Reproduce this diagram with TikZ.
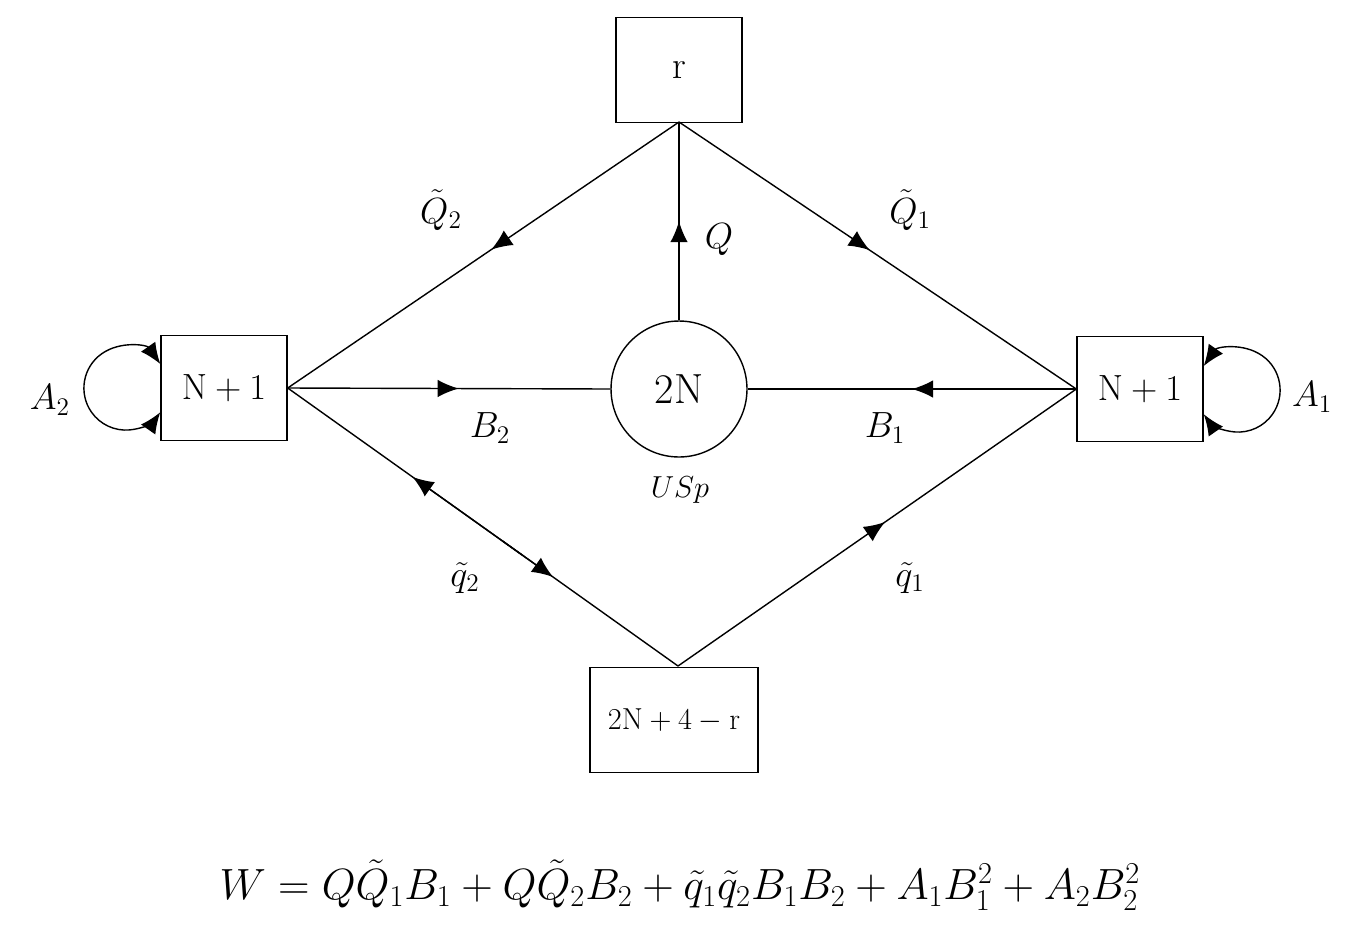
\documentclass[tikz,border=0pt]{standalone}
\usetikzlibrary{arrows.meta,decorations.markings,calc}
\begin{document}
\begin{tikzpicture}[x=0.02cm,y=-0.02cm,
  box/.style={draw,line width=0.8pt,minimum width=2.52cm,minimum height=2.1cm,inner sep=0pt,font=\fontsize{22}{26}\selectfont},
  lab/.style={font=\fontsize{22}{26}\selectfont},
  edge/.style={line width=0.8pt},
  midarr/.style={postaction={decorate},decoration={markings,mark=at position #1 with {\arrow{Latex[length=12pt,width=10pt]}}}},
  tip/.style={-{Latex[length=12pt,width=10pt]}}]
\useasboundingbox (0,0) rectangle (1365,937);
\node[box] (r) at (679,70) {r};
\node[box] (L) at (224,388) {$\mathrm{N}+1$};
\node[box] (R) at (1140,389) {$\mathrm{N}+1$};
\node[box,minimum width=3.36cm,font=\fontsize{18}{22}\selectfont] (bot) at (674,720) {$\mathrm{2N}+4-\mathrm{r}$};
\node[draw,circle,line width=0.8pt,minimum size=2.72cm,inner sep=0pt,font=\fontsize{24}{28}\selectfont] (c) at (679,389) {2N};
\coordinate (rt) at (679,122);
\coordinate (bt) at (678,666);
\draw[edge,midarr=0.5] (c.north) -- (rt);
\draw[edge,midarr=0.48] (rt) -- (L.east);
\draw[edge,midarr=0.48] (rt) -- (R.west);
\draw[edge,midarr=0.53] (L.east) -- (c.west);
\draw[edge,midarr=0.5] (R.west) -- (c.east);
\draw[edge] (L.east) -- (bt);
\draw[edge,tip] ($(L.east)!0.6!(bt)$) -- ($(L.east)!0.32!(bt)$);
\draw[edge,tip] ($(L.east)!0.55!(bt)$) -- ($(L.east)!0.68!(bt)$);
\draw[edge,midarr=0.52] (bt) -- (R.west);
\draw[edge,{Latex[length=12pt,width=10pt]}-{Latex[length=12pt,width=10pt]}] (L.west|-0,364) arc[start angle=-35,end angle=-325,radius=42];
\draw[edge,{Latex[length=12pt,width=10pt]}-{Latex[length=12pt,width=10pt]}] (R.east|-0,366) arc[start angle=-145,end angle=145,radius=42];
\node[lab] (a2) at (50,400) {$A_2$};
\node[lab] (a1) at (1312,397) {$A_1$};
\node[lab] (q2t) at (441,210) {$\tilde Q_2$};
\node[lab] (qq) at (719,240) {$Q$};
\node[lab] (q1t) at (910,210) {$\tilde Q_1$};
\node[lab] (b2) at (490,428) {$B_2$};
\node[lab] (b1) at (885,428) {$B_1$};
\node[font=\fontsize{18}{22}\selectfont] (usp) at (680,490) {$USp$};
\node[lab] (s2) at (465,578) {$\tilde q_2$};
\node[lab] (s1) at (910,578) {$\tilde q_1$};
\node[font=\fontsize{25}{30}\selectfont] (W) at (680,885) {$W = Q\tilde Q_1B_1 + Q\tilde Q_2B_2 + \tilde q_1\tilde q_2 B_1B_2 + A_1B_1^2 + A_2B_2^2$};
\end{tikzpicture}
\end{document}
